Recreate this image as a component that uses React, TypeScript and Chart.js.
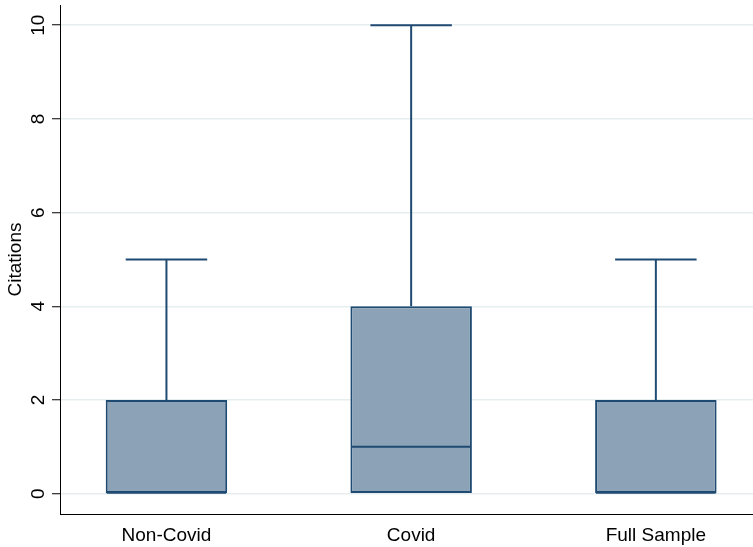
import React, { useEffect, useRef } from "react";
import { Chart, registerables } from "chart.js";

Chart.register(...registerables);

const categories = ["Non-Covid", "Covid", "Full Sample"];
const categoryPositions = [1, 2, 3];
const lowerWhisker = [0, 0, 0];
const q1 = [0, 0, 0];
const median = [0, 1, 0];
const q3 = [2, 4, 2];
const upperWhisker = [5, 10, 5];
const yTicks = [0, 2, 4, 6, 8, 10];

const FONT = "'Liberation Sans', Arial, Helvetica, sans-serif";
const NAVY = "#1f4a72";
const FILL = "#8ca3b7";
const GRID = "#e6eef0";

const boxPlotPlugin = {
  id: "boxWhiskers",
  afterDatasetsDraw(chart: any) {
    const { ctx, scales } = chart;
    const xs = scales.x;
    const ys = scales.y;
    const capWidth = 0.333;
    const boxWidth = 0.4965;
    ctx.save();
    ctx.strokeStyle = NAVY;
    ctx.lineWidth = 2;
    categoryPositions.forEach((pos, i) => {
      const cx = xs.getPixelForValue(pos);
      const capL = xs.getPixelForValue(pos - capWidth / 2);
      const capR = xs.getPixelForValue(pos + capWidth / 2);
      const boxL = xs.getPixelForValue(pos - boxWidth / 2);
      const boxR = xs.getPixelForValue(pos + boxWidth / 2);
      // upper whisker
      ctx.beginPath();
      ctx.moveTo(cx, ys.getPixelForValue(q3[i]));
      ctx.lineTo(cx, ys.getPixelForValue(upperWhisker[i]));
      ctx.stroke();
      ctx.beginPath();
      ctx.moveTo(capL, ys.getPixelForValue(upperWhisker[i]));
      ctx.lineTo(capR, ys.getPixelForValue(upperWhisker[i]));
      ctx.stroke();
      // lower whisker
      if (lowerWhisker[i] < q1[i]) {
        ctx.beginPath();
        ctx.moveTo(cx, ys.getPixelForValue(q1[i]));
        ctx.lineTo(cx, ys.getPixelForValue(lowerWhisker[i]));
        ctx.stroke();
        ctx.beginPath();
        ctx.moveTo(capL, ys.getPixelForValue(lowerWhisker[i]));
        ctx.lineTo(capR, ys.getPixelForValue(lowerWhisker[i]));
        ctx.stroke();
      }
      // median
      const my = ys.getPixelForValue(median[i]) - (median[i] === q1[i] ? 1 : 0);
      ctx.beginPath();
      ctx.moveTo(boxL + 1, my);
      ctx.lineTo(boxR - 1, my);
      ctx.stroke();
    });
    ctx.restore();
  },
  afterDraw(chart: any) {
    const { ctx, scales } = chart;
    const ys = scales.y;
    ctx.save();
    ctx.fillStyle = "#000";
    ctx.font = `19px ${FONT}`;
    ctx.textAlign = "center";
    ctx.textBaseline = "alphabetic";
    const bx = ys.right - 16;
    yTicks.forEach((v) => {
      const py = ys.getPixelForValue(v);
      ctx.save();
      ctx.translate(bx, py);
      ctx.rotate(-Math.PI / 2);
      ctx.fillText(String(v), 0, 0);
      ctx.restore();
    });
    ctx.restore();
  },
};

export default function App() {
  const ref = useRef<HTMLCanvasElement>(null);
  useEffect(() => {
    if (!ref.current) return;
    const chart = new Chart(ref.current, {
      type: "bar",
      data: {
        datasets: [
          {
            data: categoryPositions.map((x, i) => ({ x, y: [q1[i], q3[i]] })) as any,
            backgroundColor: FILL,
            borderColor: NAVY,
            borderWidth: 2,
            borderSkipped: false,
            barPercentage: 0.4965,
            categoryPercentage: 1,
          },
        ],
      },
      options: {
        responsive: false,
        animation: false,
        layout: { padding: { top: 5, right: 0, left: 0, bottom: 0 } },
        plugins: { legend: { display: false }, tooltip: { enabled: false } },
        scales: {
          x: {
            type: "linear",
            offset: false,
            min: 0.565,
            max: 3.397,
            afterBuildTicks: (s: any) => {
              s.ticks = categoryPositions.map((v) => ({ value: v }));
            },
            afterFit: (s: any) => {
              s.height = 33;
            },
            ticks: {
              callback: (_v: any, idx: number) => categories[idx],
              font: { size: 19, family: FONT },
              color: "#000",
              padding: 10,
              autoSkip: false,
              maxRotation: 0,
              minRotation: 0,
            },
            grid: { display: false, drawTicks: false, offset: false },
            border: { display: true, color: "#000", width: 1 },
          },
          y: {
            type: "linear",
            min: -0.433,
            max: 10.432,
            afterBuildTicks: (s: any) => {
              s.ticks = yTicks.map((v) => ({ value: v }));
            },
            afterFit: (s: any) => {
              s.width = 60;
            },
            ticks: { display: false },
            grid: {
              color: GRID,
              lineWidth: 1.5,
              drawTicks: true,
              tickLength: 8,
              tickColor: "#000",
              tickWidth: 1,
            },
            border: { display: true, color: "#000", width: 1 },
            title: {
              display: true,
              text: "Citations",
              font: { size: 19, family: FONT },
              color: "#000",
              padding: { top: 4, bottom: 0 },
            },
          },
        },
      },
      plugins: [boxPlotPlugin],
    });
    return () => chart.destroy();
  }, []);
  return (
    <div style={{ position: "absolute", left: 0, top: 0, width: 753, height: 547, background: "#fff" }}>
      <canvas ref={ref} width={753} height={547} style={{ display: "block" }} />
    </div>
  );
}
